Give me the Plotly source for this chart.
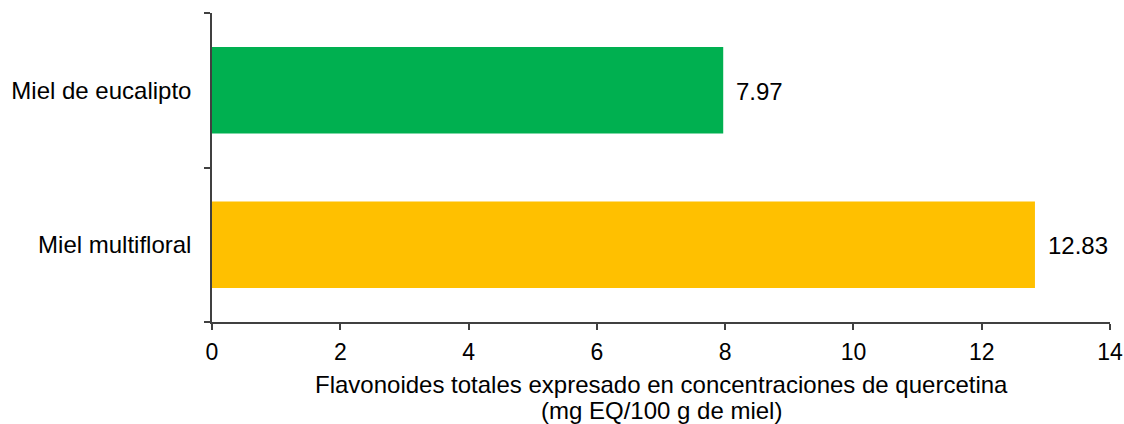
import plotly.graph_objects as go

categories = ["Miel multifloral", "Miel de eucalipto"]
values = [12.83, 7.97]
bar_colors = ["#FFC000", "#00B050"]
x_ticks = [0, 2, 4, 6, 8, 10, 12, 14]
x_title_lines = [
    "Flavonoides totales expresado en concentraciones de quercetina",
    "(mg EQ/100 g de miel)",
]

FONT = "Liberation Sans, Arial, sans-serif"

fig = go.Figure()
fig.add_trace(go.Bar(
    y=categories,
    x=values,
    orientation="h",
    marker=dict(color=bar_colors, line=dict(width=0)),
    width=0.56,
    hoverinfo="skip",
))

# value labels to the right of each bar
for cat, val in zip(categories, values):
    fig.add_annotation(
        x=val, y=cat, text=f"{val:.2f}", showarrow=False,
        xanchor="left", xshift=11, yshift=-1,
        font=dict(family=FONT, size=24, color="#000000"),
    )

# two-line axis title with tight line spacing
for i, line in enumerate(x_title_lines):
    fig.add_annotation(
        x=0.5, y=0, xref="paper", yref="paper", text=line, showarrow=False,
        xanchor="center", yanchor="middle", yshift=-62 - 26 * i,
        font=dict(family=FONT, size=24, color="#000000"),
    )

fig.update_layout(
    width=1124, height=424,
    margin=dict(l=212, r=14, t=13, b=102),
    paper_bgcolor="white", plot_bgcolor="white",
    showlegend=False,
    font=dict(family=FONT, size=24, color="#000000"),
    xaxis=dict(
        range=[0, 14], tickvals=x_ticks, ticktext=[str(t) for t in x_ticks],
        showgrid=False, zeroline=False, automargin=False,
        showline=True, linecolor="#404040", linewidth=1.5,
        ticks="outside", ticklen=6, tickcolor="#404040", tickwidth=1.5,
        tickfont=dict(size=23),
        ticklabelstandoff=3,
    ),
    yaxis=dict(
        type="category", range=[-0.5, 1.5],
        showgrid=False, zeroline=False, automargin=False,
        showline=True, linecolor="#404040", linewidth=1.5,
        ticks="outside", ticklen=6, tickcolor="#404040", tickwidth=1.5,
        tickson="boundaries",
        tickfont=dict(size=24),
        ticklabelstandoff=14,
    ),
)

fig.write_html("out.html")
